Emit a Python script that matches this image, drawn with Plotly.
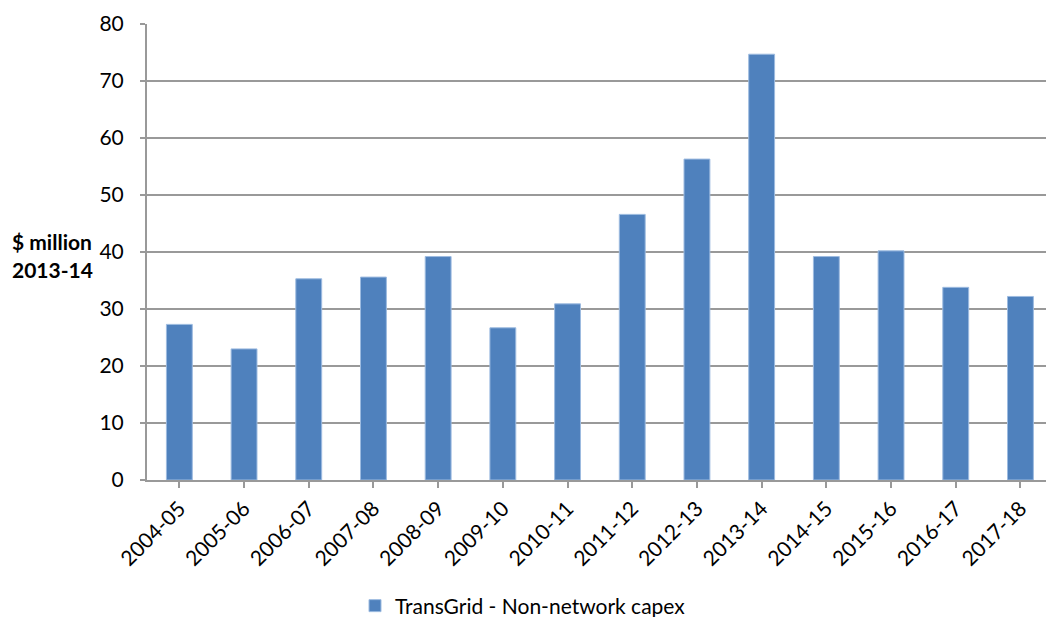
import plotly.graph_objects as go

# TransGrid non-network capital expenditure, $ million (2013-14 dollars)
years = ["2004-05", "2005-06", "2006-07", "2007-08", "2008-09", "2009-10", "2010-11",
         "2011-12", "2012-13", "2013-14", "2014-15", "2015-16", "2016-17", "2017-18"]
capex = [27.3, 23.0, 35.3, 35.6, 39.2, 26.7, 30.9,
         46.6, 56.3, 74.7, 39.2, 40.2, 33.8, 32.2]
series_name = "TransGrid - Non-network capex"
y_ticks = [0, 10, 20, 30, 40, 50, 60, 70, 80]

FONT = "Lato"
FS = 21
GRID = "#999999"
BAR = "#4F81BD"

W, H = 1046, 617
ML, MR, MT, MB = 147, 0, 24, 137
plot_w = W - ML - MR
plot_h = H - MT - MB

fig = go.Figure(
    go.Bar(
        x=list(range(len(years))),
        y=capex,
        name=series_name,
        marker=dict(color=BAR, line=dict(color="#9DBBE0", width=1)),
        showlegend=True,
    )
)

fig.update_layout(
    width=W,
    height=H,
    margin=dict(l=ML, r=MR, t=MT, b=MB, pad=0, autoexpand=False),
    paper_bgcolor="white",
    plot_bgcolor="white",
    bargap=0.6,
    font=dict(family=FONT, size=FS, color="black"),
    legend=dict(
        orientation="h",
        x=(355 - ML) / plot_w,
        xanchor="left",
        y=-(606 - (MT + plot_h)) / plot_h,
        yanchor="middle",
        font=dict(family=FONT, size=FS, color="black"),
        bgcolor="rgba(0,0,0,0)",
    ),
)

fig.update_xaxes(
    automargin=False,
    tickmode="array",
    tickvals=list(range(len(years))),
    ticktext=years,
    tickangle=-45,
    range=[-0.5, -0.5 + plot_w / 64.7],
    tickson="boundaries",
    ticks="outside",
    ticklen=6,
    tickwidth=2,
    tickcolor=GRID,
    showline=True,
    linecolor=GRID,
    linewidth=2,
    showgrid=False,
    zeroline=False,
    tickfont=dict(family=FONT, size=FS, color="black"),
)

fig.update_yaxes(
    automargin=False,
    range=[0, 80],
    tickvals=y_ticks,
    ticks="outside",
    ticklen=5,
    tickwidth=2,
    tickcolor=GRID,
    showline=True,
    linecolor=GRID,
    linewidth=2,
    showgrid=True,
    gridcolor=GRID,
    gridwidth=2,
    zeroline=False,
    ticklabelstandoff=12,
    tickfont=dict(family=FONT, size=FS, color="black"),
)

# Axis title set horizontally to the left of the value axis
for text, ypix in (("$ million", 241), ("2013-14", 269)):
    fig.add_annotation(
        text=f"<b>{text}</b>",
        xref="paper",
        yref="paper",
        x=(10 - ML) / plot_w,
        y=(MT + plot_h - ypix) / plot_h,
        xanchor="left",
        yanchor="middle",
        showarrow=False,
        font=dict(family=FONT, size=FS, color="black"),
    )

fig.write_html("out.html")
